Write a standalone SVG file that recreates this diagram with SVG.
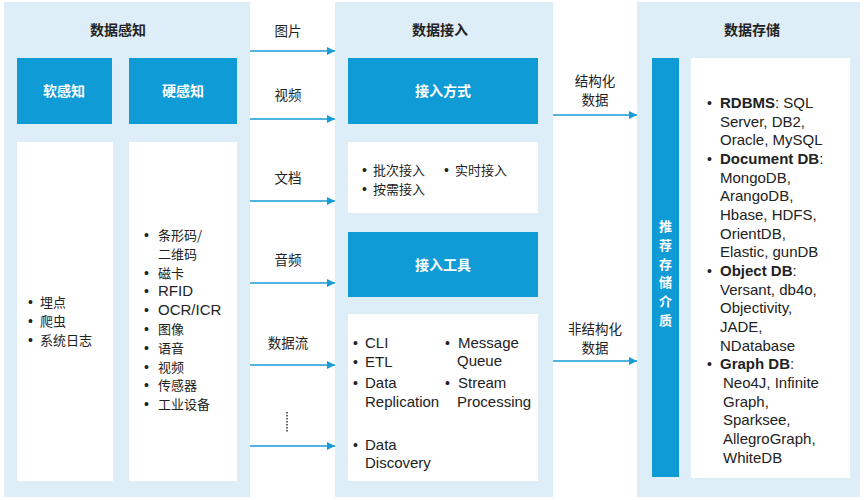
<svg xmlns="http://www.w3.org/2000/svg" width="864" height="500" viewBox="0 0 864 500">
<style>
.panel{fill:#deeef8}
.blue{fill:#0e9bd6}
.white{fill:#ffffff}
.title{font-family:"Noto Sans CJK SC","Liberation Sans",sans-serif;font-size:14px;font-weight:bold;fill:#222;text-anchor:middle}
.btitle{font-family:"Noto Sans CJK SC","Liberation Sans",sans-serif;font-size:14px;font-weight:bold;fill:#fff;text-anchor:middle}
.vt{font-family:"Noto Sans CJK SC","Liberation Sans",sans-serif;font-size:13px;font-weight:bold;fill:#fff;text-anchor:middle}
.lbl{font-family:"Noto Sans CJK SC","Liberation Sans",sans-serif;font-size:13.5px;fill:#222;text-anchor:middle}
.cn{font-family:"Noto Sans CJK SC","Liberation Sans",sans-serif;font-size:13px;fill:#222}
.en{font-family:"Liberation Sans","Noto Sans CJK SC",sans-serif;font-size:15px;fill:#222}
.bul{font-family:"Liberation Sans",sans-serif;font-size:14px}
.e{font-family:"Liberation Sans",sans-serif;font-size:15px}
.b{font-weight:bold}
.conn{stroke:#1a9ad6;stroke-width:1.5;fill:none}
</style>
<defs>
<marker id="ah" viewBox="0 0 10 10" refX="10" refY="5" markerWidth="8" markerHeight="8" markerUnits="userSpaceOnUse" orient="auto">
<path d="M0,0 L10,5 L0,10 z" fill="#1a9ad6"/>
</marker>
</defs>
<rect x="0" y="0" width="864" height="500" fill="#ffffff"/>

<g id="perception">
<rect class="panel" x="4" y="2" width="246" height="495"/>
<text class="title" x="118" y="35">数据感知</text>
<g id="soft">
<rect class="blue" x="17" y="58" width="95" height="66"/>
<text class="btitle" x="64" y="96">软感知</text>
<rect class="white" x="17" y="142" width="96" height="339"/>
<text class="cn"><tspan class="bul" x="28" y="307">•</tspan><tspan x="40">埋点</tspan><tspan class="bul" x="28" y="325.8">•</tspan><tspan x="40">爬虫</tspan><tspan class="bul" x="28" y="344.6">•</tspan><tspan x="40">系统日志</tspan></text>
</g>
<g id="hard">
<rect class="blue" x="129" y="58" width="108" height="66"/>
<text class="btitle" x="183" y="96">硬感知</text>
<rect class="white" x="129" y="142" width="108" height="339"/>
<text class="cn"><tspan class="bul" x="144" y="240">•</tspan><tspan x="158">条形码/</tspan><tspan x="158" y="258.8">二维码</tspan><tspan class="bul" x="144" y="277.6">•</tspan><tspan x="158">磁卡</tspan><tspan class="bul" x="144" y="296.4">•</tspan><tspan class="e" x="158">RFID</tspan><tspan class="bul" x="144" y="315.2">•</tspan><tspan class="e" x="158">OCR/ICR</tspan><tspan class="bul" x="144" y="334">•</tspan><tspan x="158">图像</tspan><tspan class="bul" x="144" y="352.8">•</tspan><tspan x="158">语音</tspan><tspan class="bul" x="144" y="371.6">•</tspan><tspan x="158">视频</tspan><tspan class="bul" x="144" y="390.4">•</tspan><tspan x="158">传感器</tspan><tspan class="bul" x="144" y="409.2">•</tspan><tspan x="158">工业设备</tspan></text>
</g>
</g>

<g id="ingestion">
<rect class="panel" x="335" y="2" width="218" height="495"/>
<text class="title" x="440" y="35">数据接入</text>
<g id="methods">
<rect class="blue" x="348" y="58" width="190" height="66"/>
<text class="btitle" x="443" y="96">接入方式</text>
<rect class="white" x="348" y="142" width="190" height="71"/>
<text class="cn"><tspan class="bul" x="362" y="175">•</tspan><tspan x="373">批次接入</tspan><tspan class="bul" x="444">•</tspan><tspan x="455">实时接入</tspan><tspan class="bul" x="362" y="193.8">•</tspan><tspan x="373">按需接入</tspan></text>
</g>
<g id="tools">
<rect class="blue" x="348" y="232" width="190" height="65"/>
<text class="btitle" x="443" y="270">接入工具</text>
<rect class="white" x="348" y="314" width="190" height="167"/>
<text class="en"><tspan class="bul" x="353" y="348">•</tspan><tspan x="365">CLI</tspan><tspan class="bul" x="353" y="367">•</tspan><tspan x="365">ETL</tspan><tspan class="bul" x="353" y="388">•</tspan><tspan x="365">Data</tspan><tspan x="365" y="407">Replication</tspan><tspan class="bul" x="353" y="450">•</tspan><tspan x="365">Data</tspan><tspan x="365" y="468">Discovery</tspan></text>
<text class="en"><tspan class="bul" x="445" y="348">•</tspan><tspan x="458">Message</tspan><tspan x="457" y="366">Queue</tspan><tspan class="bul" x="445" y="388">•</tspan><tspan x="458">Stream</tspan><tspan x="457" y="407">Processing</tspan></text>
</g>
</g>

<g id="storage">
<rect class="panel" x="637" y="2" width="223" height="495"/>
<text class="title" x="752" y="35">数据存储</text>
<g id="media">
<rect class="blue" x="652" y="58" width="27" height="419"/>
<text class="vt"><tspan x="665.5" y="231">推</tspan><tspan x="665.5" y="249.8">荐</tspan><tspan x="665.5" y="268.6">存</tspan><tspan x="665.5" y="287.4">储</tspan><tspan x="665.5" y="306.2">介</tspan><tspan x="665.5" y="325">质</tspan></text>
</g>
<g id="dbs">
<rect class="white" x="691" y="58" width="159" height="420"/>
<text class="en"><tspan class="bul" x="707" y="108">•</tspan><tspan x="720" class="b">RDBMS</tspan><tspan>: SQL</tspan><tspan x="720" y="127">Server, DB2,</tspan><tspan x="720" y="145">Oracle, MySQL</tspan><tspan class="bul" x="707" y="164">•</tspan><tspan x="720" class="b">Document DB</tspan><tspan>:</tspan><tspan x="720" y="183">MongoDB,</tspan><tspan x="720" y="201">ArangoDB,</tspan><tspan x="720" y="220">Hbase, HDFS,</tspan><tspan x="720" y="239">OrientDB,</tspan><tspan x="720" y="257">Elastic, gunDB</tspan><tspan class="bul" x="707" y="276">•</tspan><tspan x="720" class="b">Object DB</tspan><tspan>:</tspan><tspan x="720" y="295">Versant, db4o,</tspan><tspan x="720" y="313">Objectivity,</tspan><tspan x="720" y="332">JADE,</tspan><tspan x="720" y="351">NDatabase</tspan><tspan class="bul" x="707" y="369">•</tspan><tspan x="720" class="b">Graph DB</tspan><tspan>:</tspan><tspan x="723" y="388">Neo4J, Infinite</tspan><tspan x="723" y="407">Graph,</tspan><tspan x="723" y="425">Sparksee,</tspan><tspan x="723" y="444">AllegroGraph,</tspan><tspan x="723" y="463">WhiteDB</tspan></text>
</g>
</g>

<g id="connectors">
<line class="conn" x1="250" y1="51" x2="335" y2="51" marker-end="url(#ah)"/>
<line class="conn" x1="250" y1="119" x2="335" y2="119" marker-end="url(#ah)"/>
<line class="conn" x1="250" y1="201" x2="335" y2="201" marker-end="url(#ah)"/>
<line class="conn" x1="250" y1="283" x2="335" y2="283" marker-end="url(#ah)"/>
<line class="conn" x1="250" y1="365" x2="335" y2="365" marker-end="url(#ah)"/>
<line class="conn" x1="250" y1="446" x2="335" y2="446" marker-end="url(#ah)"/>
<line class="conn" x1="553" y1="115" x2="637" y2="115" marker-end="url(#ah)"/>
<line class="conn" x1="553" y1="361" x2="637" y2="361" marker-end="url(#ah)"/>
<line x1="287" y1="412" x2="287" y2="433" stroke="#333" stroke-width="1.5" stroke-dasharray="1.5,1.5"/>
<text class="lbl" x="288" y="36">图片</text>
<text class="lbl" x="288" y="100">视频</text>
<text class="lbl" x="288" y="183">文档</text>
<text class="lbl" x="288" y="265">音频</text>
<text class="lbl" x="288" y="348">数据流</text>
<text class="lbl"><tspan x="595" y="86">结构化</tspan><tspan x="595" y="105">数据</tspan></text>
<text class="lbl"><tspan x="595" y="334">非结构化</tspan><tspan x="595" y="353">数据</tspan></text>
</g>
</svg>
